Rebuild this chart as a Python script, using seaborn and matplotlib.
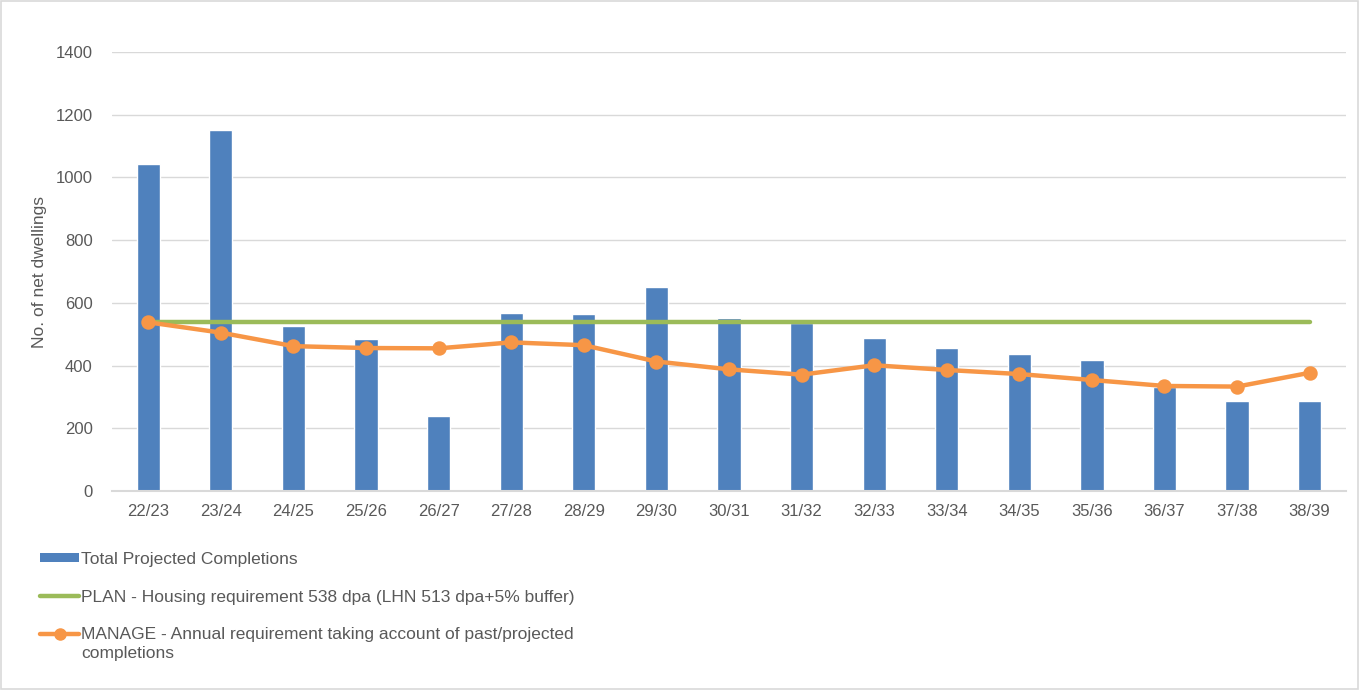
import matplotlib
matplotlib.use("Agg")
import matplotlib.pyplot as plt
from matplotlib.patches import Patch, Rectangle
from matplotlib.lines import Line2D
from matplotlib.legend_handler import HandlerLine2D
import seaborn as sns
import pandas as pd

years = ["22/23", "23/24", "24/25", "25/26", "26/27", "27/28", "28/29", "29/30",
         "30/31", "31/32", "32/33", "33/34", "34/35", "35/36", "36/37", "37/38", "38/39"]
completions = [1043, 1150, 527, 485, 238, 568, 564, 650, 552, 537, 488, 455, 437, 418,
               333, 287, 287]
plan_requirement = [538] * len(years)
manage_requirement = [538, 505, 462, 456, 455, 474, 465, 413, 388, 371, 401, 386, 373,
                      354, 335, 333, 377]

label_bars = "Total Projected Completions"
label_plan = "PLAN - Housing requirement 538 dpa (LHN 513 dpa+5% buffer)"
label_manage = "MANAGE - Annual requirement taking account of past/projected\ncompletions"

BLUE = "#4f81bd"
GREEN = "#9bbb59"
ORANGE = "#f79646"
TEXT = "#595959"
GRID = "#d9d9d9"


class FirstLineHandler(HandlerLine2D):
    """Line handle aligned with the first line of a two-line legend label."""

    def __init__(self, shift, **kw):
        super().__init__(**kw)
        self.shift = shift

    def create_artists(self, legend, orig_handle, xdescent, ydescent, width, height,
                       fontsize, trans):
        artists = super().create_artists(legend, orig_handle, xdescent, ydescent,
                                         width, height, fontsize, trans)
        for a in artists:
            a.set_ydata([y + self.shift for y in a.get_ydata()])
        return artists


sns.set_theme(style="white")
plt.rcParams["font.family"] = ["Liberation Sans", "DejaVu Sans"]

df = pd.DataFrame({"year": years, "completions": completions,
                   "plan": plan_requirement, "manage": manage_requirement})

fig = plt.figure(figsize=(13.59, 6.90), dpi=100)
ax = fig.add_axes([0.0824, 0.2884, 0.9080, 0.6362])

sns.barplot(data=df, x="year", y="completions", order=years, color=BLUE,
            saturation=1, width=0.32, ax=ax, zorder=2)
sns.pointplot(data=df, x="year", y="plan", order=years, color=GREEN, markers="",
              errorbar=None, ax=ax, lw=3.2, zorder=3)
sns.pointplot(data=df, x="year", y="manage", order=years, color=ORANGE, markers="o",
              errorbar=None, ax=ax, lw=3.2, markersize=8, zorder=4)

ax.set_xlim(-0.5, len(years) - 0.5)
ax.set_ylim(0, 1400)
ax.set_yticks(range(0, 1401, 200))
ax.yaxis.grid(True, color=GRID, lw=1.0, zorder=0)
ax.set_axisbelow(True)
for side in ("left", "right", "top"):
    ax.spines[side].set_visible(False)
ax.spines["bottom"].set_color(GRID)
ax.spines["bottom"].set_linewidth(1.5)
ax.tick_params(axis="both", length=0, labelsize=12, colors=TEXT)
ax.tick_params(axis="x", pad=9)
ax.tick_params(axis="y", pad=14)
ax.set_xlabel("")
ax.set_ylabel("No. of net dwellings", fontsize=12.5, color=TEXT, labelpad=6)

bar_handle = Patch(facecolor=BLUE, edgecolor="none")
plan_handle = Line2D([], [], color=GREEN, lw=3.2)
manage_handle = Line2D([], [], color=ORANGE, lw=3.2, marker="o", markersize=8)
leg = fig.legend([bar_handle, plan_handle, manage_handle],
                 [label_bars, label_plan, label_manage],
                 loc="upper left", bbox_to_anchor=(0.024, 0.21), frameon=False,
                 fontsize=12.5, handlelength=2.3, handleheight=0.4, handletextpad=0.1,
                 labelspacing=1.3, borderaxespad=0,
                 handler_map={manage_handle: FirstLineHandler(shift=7.5)})
for t in leg.get_texts():
    t.set_color(TEXT)
    t.set_linespacing(1.3)

fig.patches.append(Rectangle((0.0008, 0.0012), 0.9984, 0.9976, transform=fig.transFigure,
                             fill=False, edgecolor=GRID, lw=1.2))

fig.savefig("out.png", dpi=100, facecolor="white")
